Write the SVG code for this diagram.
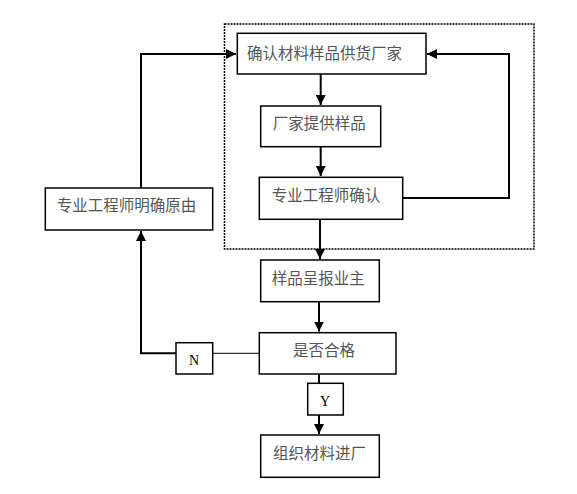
<svg xmlns="http://www.w3.org/2000/svg" width="577" height="494" viewBox="0 0 577 494">
<defs>
<style>
.box{fill:#fff;stroke:#000;stroke-width:1.5}
.t{font-family:"Noto Sans CJK SC","Noto Sans CJK JP",sans-serif;font-size:15.5px;fill:#555}
.l{font-family:"Liberation Serif",serif;font-size:14px;fill:#000;text-anchor:middle}
.c{fill:none;stroke:#000;stroke-width:2}
.thin{fill:none;stroke:#000;stroke-width:1}
</style>
<marker id="ah" viewBox="0 0 10 10" refX="10" refY="5" markerWidth="5" markerHeight="5" orient="auto" markerUnits="strokeWidth">
<path d="M0,0 L10,5 L0,10 Z" fill="#000"/>
</marker>
</defs>
<rect width="577" height="494" fill="#fff"/>
<rect id="group-frame" x="224.5" y="24" width="309.5" height="225" fill="none" stroke="#000" stroke-width="1.5" stroke-dasharray="2,1"/>
<g id="connectors">
<path class="c" d="M141,188 V54 H236" marker-end="url(#ah)"/>
<path class="c" d="M320.7,74 V105" marker-end="url(#ah)"/>
<path class="c" d="M320.7,146.7 V176" marker-end="url(#ah)"/>
<path class="c" d="M402.7,198 H509 V54 H427" marker-end="url(#ah)"/>
<path class="c" d="M320,219.3 V259" marker-end="url(#ah)"/>
<path class="c" d="M319,301.7 V331.5" marker-end="url(#ah)"/>
<path class="thin" d="M259.3,353.3 H212.7"/>
<path class="c" d="M176,353.3 H141 V231" marker-end="url(#ah)"/>
<path class="c" d="M319,374 V383.3"/>
<path class="c" d="M319,415 V434" marker-end="url(#ah)"/>
</g>
<g id="n1"><rect class="box" x="237.3" y="33.3" width="188.7" height="40.7"/><text class="t" x="247" y="58.5">确认材料样品供货厂家</text></g>
<g id="n2"><rect class="box" x="260.7" y="106" width="120" height="40.7"/><text class="t" x="272.7" y="129">厂家提供样品</text></g>
<g id="n3"><rect class="box" x="259.3" y="177.3" width="143.4" height="42"/><text class="t" x="271.7" y="201">专业工程师确认</text></g>
<g id="n4"><rect class="box" x="45.3" y="188" width="167.4" height="42"/><text class="t" x="56.7" y="211">专业工程师明确原由</text></g>
<g id="n5"><rect class="box" x="260.7" y="260" width="118.6" height="41.7"/><text class="t" x="271.7" y="284">样品呈报业主</text></g>
<g id="n6"><rect class="box" x="259.3" y="332.7" width="136.7" height="41.3"/><text class="t" x="293" y="356">是否合格</text></g>
<g id="n7"><rect class="box" x="260.7" y="435" width="118.6" height="42.3"/><text class="t" x="273" y="459">组织材料进厂</text></g>
<g id="lN"><rect class="box" x="176" y="342.7" width="36.7" height="31.3"/><text class="l" x="194" y="365">N</text></g>
<g id="lY"><rect class="box" x="307.7" y="383.3" width="35.6" height="31.7"/><text class="l" x="325" y="405.5">Y</text></g>
</svg>
